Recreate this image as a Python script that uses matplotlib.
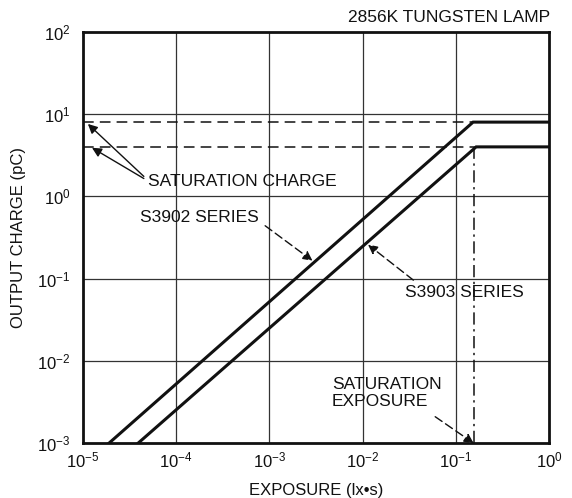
import matplotlib
matplotlib.use("Agg")
import matplotlib.pyplot as plt

# output charge vs exposure, 2856K tungsten lamp
exposure_s3902 = [1.9e-5, 0.153, 1.0]
charge_s3902 = [1e-3, 8.0, 8.0]
exposure_s3903 = [3.9e-5, 0.165, 1.0]
charge_s3903 = [1e-3, 4.0, 4.0]
sat_charge = [8.0, 4.0]
sat_exposure = 0.158

x_ticks = [1e-5, 1e-4, 1e-3, 1e-2, 1e-1, 1e0]
x_labels = [r"$10^{-5}$", r"$10^{-4}$", r"$10^{-3}$", r"$10^{-2}$", r"$10^{-1}$", r"$10^{0}$"]
y_ticks = [1e-3, 1e-2, 1e-1, 1e0, 1e1, 1e2]
y_labels = [r"$10^{-3}$", r"$10^{-2}$", r"$10^{-1}$", r"$10^{0}$", r"$10^{1}$", r"$10^{2}$"]

plt.rcParams["font.family"] = ["Liberation Sans", "DejaVu Sans"]
plt.rcParams["mathtext.fontset"] = "custom"
plt.rcParams["mathtext.rm"] = "Liberation Sans"
plt.rcParams["mathtext.it"] = "Liberation Sans:italic"

fig = plt.figure(figsize=(5.72, 4.98), dpi=100)
ax = fig.add_axes([0.145, 0.110, 0.815, 0.826])
ax.set_xscale("log")
ax.set_yscale("log")
ax.set_xlim(1e-5, 1e0)
ax.set_ylim(1e-3, 1e2)

ink = "#111111"

# grid
for xv in x_ticks[1:-1]:
    ax.axvline(xv, color="#333333", lw=0.9, zorder=1)
for yv in y_ticks[1:-1]:
    ax.axhline(yv, color="#333333", lw=0.9, zorder=1)

# saturation guides
ax.plot([1e-5, exposure_s3902[1]], [sat_charge[0]] * 2, color=ink, lw=1.1,
        dashes=(7, 4), zorder=2)
ax.plot([1e-5, exposure_s3903[1]], [sat_charge[1]] * 2, color=ink, lw=1.1,
        dashes=(7, 4), zorder=2)
ax.plot([sat_exposure] * 2, [1e-3, sat_charge[1]], color=ink, lw=1.1,
        dashes=(8, 3, 1.5, 3), zorder=2)

# characteristic curves
ax.plot(exposure_s3902, charge_s3902, color=ink, lw=2.2, zorder=3,
        solid_joinstyle="miter")
ax.plot(exposure_s3903, charge_s3903, color=ink, lw=2.2, zorder=3,
        solid_joinstyle="miter")

ax.set_xticks(x_ticks)
ax.set_xticklabels(x_labels)
ax.set_yticks(y_ticks)
ax.set_yticklabels(y_labels)
ax.minorticks_off()
ax.tick_params(length=0, labelsize=12, colors=ink)
ax.tick_params(axis="x", pad=5)
ax.tick_params(axis="y", pad=9)
for s in ax.spines.values():
    s.set_linewidth(2.0)
    s.set_color(ink)

ax.set_xlabel("EXPOSURE (lx\u2022s)", fontsize=12, labelpad=9, color=ink)
ax.set_ylabel("OUTPUT CHARGE (pC)", fontsize=12, labelpad=8, color=ink)

fig.text(550 / 572, 1 - 17 / 498, "2856K TUNGSTEN LAMP", ha="right",
         va="center", fontsize=12.5, color=ink)

arrow = dict(arrowstyle="-|>", color=ink, lw=1.0, mutation_scale=14,
             shrinkA=0, shrinkB=0)

# saturation charge
ax.text(5.0e-5, 1.5, "SATURATION CHARGE", fontsize=12.5, va="center",
        ha="left", color=ink)
ax.annotate("", xy=(1.13e-5, 7.6), xytext=(4.5e-5, 1.75), arrowprops=arrow)
ax.annotate("", xy=(1.25e-5, 3.9), xytext=(4.5e-5, 1.65), arrowprops=arrow)

# S3902 series
ax.text(4.1e-5, 0.55, "S3902 SERIES", fontsize=12.5, va="center",
        ha="left", color=ink)
ax.annotate("", xy=(2.9e-3, 0.165), xytext=(9.0e-4, 0.44),
            arrowprops=dict(arrow, linestyle=(0, (6, 3))))

# S3903 series
ax.text(0.0285, 0.067, "S3903 SERIES", fontsize=12.5, va="center",
        ha="left", color=ink)
ax.annotate("", xy=(0.0114, 0.26), xytext=(0.035, 0.096),
            arrowprops=dict(arrow, linestyle=(0, (6, 3))))

# saturation exposure
ax.text(4.7e-3, 4.1e-3, "SATURATION\nEXPOSURE", fontsize=12.5, va="center",
        ha="left", color=ink, linespacing=1.15)
ax.annotate("", xy=(0.155, 1.0e-3), xytext=(0.06, 2.1e-3),
            arrowprops=dict(arrow, linestyle=(0, (6, 3))))

fig.savefig("out.png", dpi=100)
